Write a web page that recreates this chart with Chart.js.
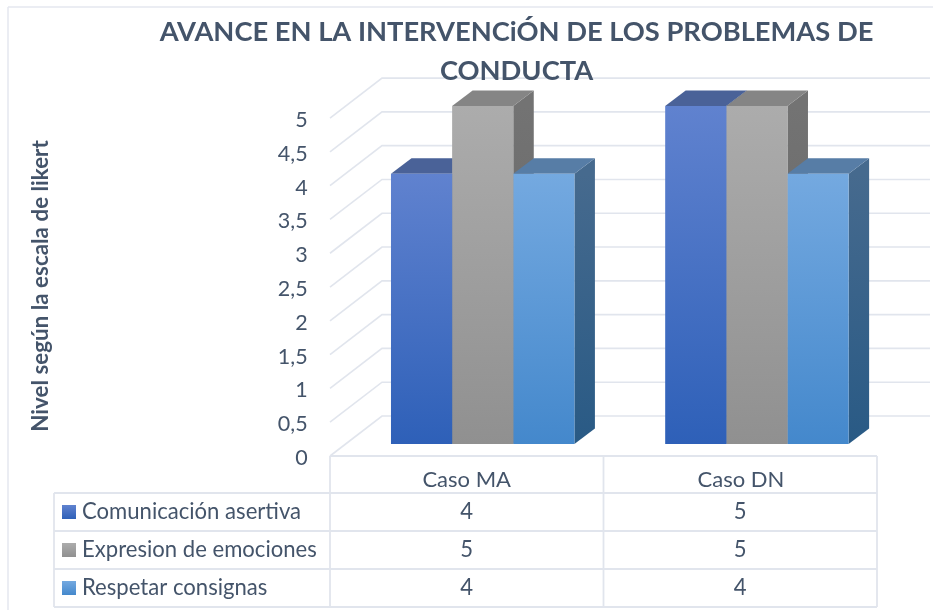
<!DOCTYPE html>
<html lang="es">
<head>
<meta charset="utf-8">
<title>Avance</title>
<script src="https://cdn.jsdelivr.net/npm/chart.js@4"></script>
<style>html,body{margin:0;padding:0;background:#fff}canvas{display:block}</style>
</head>
<body>
<canvas id="c" width="933" height="610"></canvas>
<script>
const categories = ['Caso MA', 'Caso DN'];
const seriesNames = ['Comunicación asertiva', 'Expresion de emociones', 'Respetar consignas'];
const comunicacion = [4, 5];
const expresion = [5, 5];
const respetar = [4, 4];
const seriesValues = [comunicacion, expresion, respetar];
const yTitle = 'Nivel según la escala de likert';
const chartTitle = ['AVANCE EN LA INTERVENCiÓN DE LOS PROBLEMAS DE', 'CONDUCTA'];

const FONT = 'Lato, Carlito, sans-serif';
const TEXT = '#44546A', LINE = '#E1E5ED';
const palette = [
  {top:'#6082CF', bot:'#2E60B8', cap:'#4A6298', sideT:'#3E5C95', sideB:'#254C8C'},
  {top:'#ACACAC', bot:'#909090', cap:'#858585', sideT:'#737373', sideB:'#636363'},
  {top:'#74A9E0', bot:'#4488CC', cap:'#577DA6', sideT:'#466A8E', sideB:'#295A85'}
];
const DX = 20.5, DY = 15.5;         // bar depth
const AXIS_F = 12, AXIS_B = -28, WALL_L = 330, WALL_B = 382, WALL_R = 930; // wall projection
const TBL = {x0:54, x1:330, cols:[330,603.5,877], rows:[456,493,531,569,607]};

function vGrad(ctx, y0, y1, a, b){
  const g = ctx.createLinearGradient(0, y0, 0, y1);
  g.addColorStop(0, a); g.addColorStop(1, b); return g;
}
function poly(ctx, pts, fill){
  ctx.beginPath(); pts.forEach((p,i)=> i ? ctx.lineTo(p[0],p[1]) : ctx.moveTo(p[0],p[1]));
  ctx.closePath(); ctx.fillStyle = fill; ctx.fill();
}
function seg(ctx,x0,y0,x1,y1){ ctx.beginPath(); ctx.moveTo(x0,y0); ctx.lineTo(x1,y1); ctx.stroke(); }

const scene = {
  id:'scene',
  afterLayout(chart){
    const t = chart.titleBlock;
    if (t){ t.left = 50; t.right = 983; }
  },
  beforeDraw(chart){
    const ctx = chart.ctx, y = chart.scales.y;
    ctx.save();
    ctx.fillStyle = '#fff'; ctx.fillRect(0,0,chart.width,chart.height);
    ctx.strokeStyle = '#E4E7EF'; ctx.lineWidth = 1.5;
    seg(ctx,8,610,8,7); seg(ctx,8,7,933,7);
    ctx.strokeStyle = LINE; ctx.lineWidth = 1.6;
    y.ticks.forEach(t=>{
      const p = y.getPixelForValue(t.value);
      ctx.beginPath();
      ctx.moveTo(WALL_L, p+AXIS_F);
      ctx.lineTo(WALL_B, p+AXIS_B);
      ctx.lineTo(WALL_R, p+AXIS_B);
      ctx.stroke();
    });
    ctx.restore();
  },
  beforeDatasetsDraw(chart){
    const ctx = chart.ctx;
    ctx.save();
    chart.data.datasets.forEach((ds,i)=>{
      const c = palette[i];
      chart.getDatasetMeta(i).data.forEach(b=>{
        const l = b.x-b.width/2, r = b.x+b.width/2, t = b.y, bs = b.base;
        poly(ctx, [[r,t],[r+DX,t-DY],[r+DX,bs-DY],[r,bs]], vGrad(ctx,t,bs,c.sideT,c.sideB));
        poly(ctx, [[l,t],[l+DX,t-DY],[r+DX,t-DY],[r,t]], c.cap);
      });
    });
    ctx.restore();
  },
  afterDraw(chart){
    const ctx = chart.ctx;
    ctx.save();
    // y axis title
    ctx.fillStyle = TEXT; ctx.font = 'bold 22.4px '+FONT;
    ctx.textAlign = 'center'; ctx.textBaseline = 'middle';
    ctx.translate(41,286); ctx.rotate(-Math.PI/2); ctx.fillText(yTitle,0,0);
    ctx.setTransform(1,0,0,1,0,0);
    // data table
    ctx.strokeStyle = LINE; ctx.lineWidth = 1.8;
    TBL.rows.forEach((r,i)=> seg(ctx, i===0 ? TBL.x1 : TBL.x0, r, TBL.cols[2], r));
    TBL.cols.forEach(x=> seg(ctx,x,TBL.rows[0],x,TBL.rows[4]));
    seg(ctx,TBL.x0,TBL.rows[1],TBL.x0,TBL.rows[4]);
    seriesNames.forEach((n,i)=>{
      const yc = (TBL.rows[i+1]+TBL.rows[i+2])/2;
      const c = palette[i];
      ctx.fillStyle = vGrad(ctx,yc-7,yc+7,c.top,c.bot);
      ctx.fillRect(62,yc-7,14,14);
      ctx.fillStyle = TEXT; ctx.font = '22.1px '+FONT;
      ctx.textAlign = 'left'; ctx.textBaseline = 'middle';
      ctx.fillText(n,82,yc);
      ctx.textAlign = 'center';
      seriesValues[i].forEach((v,j)=>{
        ctx.fillText(String(v).replace('.',','), (TBL.cols[j]+TBL.cols[j+1])/2, yc);
      });
    });
    ctx.restore();
  }
};

new Chart(document.getElementById('c'), {
  type:'bar',
  data:{
    labels:categories,
    datasets:seriesNames.map((name,i)=>({
      label:name,
      data:seriesValues[i],
      backgroundColor:(c)=>{
        const s = c.chart.scales.y;
        if (!s || c.raw === undefined) return palette[i].top;
        const y0 = s.getPixelForValue(c.raw), y1 = s.getPixelForValue(0);
        if (!isFinite(y0) || !isFinite(y1)) return palette[i].top;
        return vGrad(c.chart.ctx, y0, y1, palette[i].top, palette[i].bot);
      },
      borderWidth:0,
      barPercentage:1,
      categoryPercentage:0.669
    }))
  },
  options:{
    responsive:false,
    animation:false,
    devicePixelRatio:1,
    layout:{padding:{left:0,right:39,top:0,bottom:0}},
    plugins:{
      legend:{display:false},
      tooltip:{enabled:false},
      title:{
        display:true,
        text:chartTitle,
        color:TEXT,
        align:'center',
        font:{family:FONT,size:27.3,weight:'bold',lineHeight:1.43},
        padding:{top:13,bottom:15}
      }
    },
    scales:{
      x:{
        grid:{display:false,drawTicks:false},
        border:{display:false},
        ticks:{color:TEXT,font:{family:FONT,size:22},labelOffset:-16,padding:23,maxRotation:0},
        afterFit:(s)=>{s.height=166;}
      },
      y:{
        min:0,max:5,
        grid:{display:false,drawTicks:false},
        border:{display:false},
        ticks:{
          stepSize:0.5,color:TEXT,font:{family:FONT,size:21.5},labelOffset:14,padding:38,
          callback:(v)=>String(v).replace('.',',')
        },
        afterFit:(s)=>{s.width=345.6;}
      }
    }
  },
  plugins:[scene]
});
</script>
</body>
</html>
